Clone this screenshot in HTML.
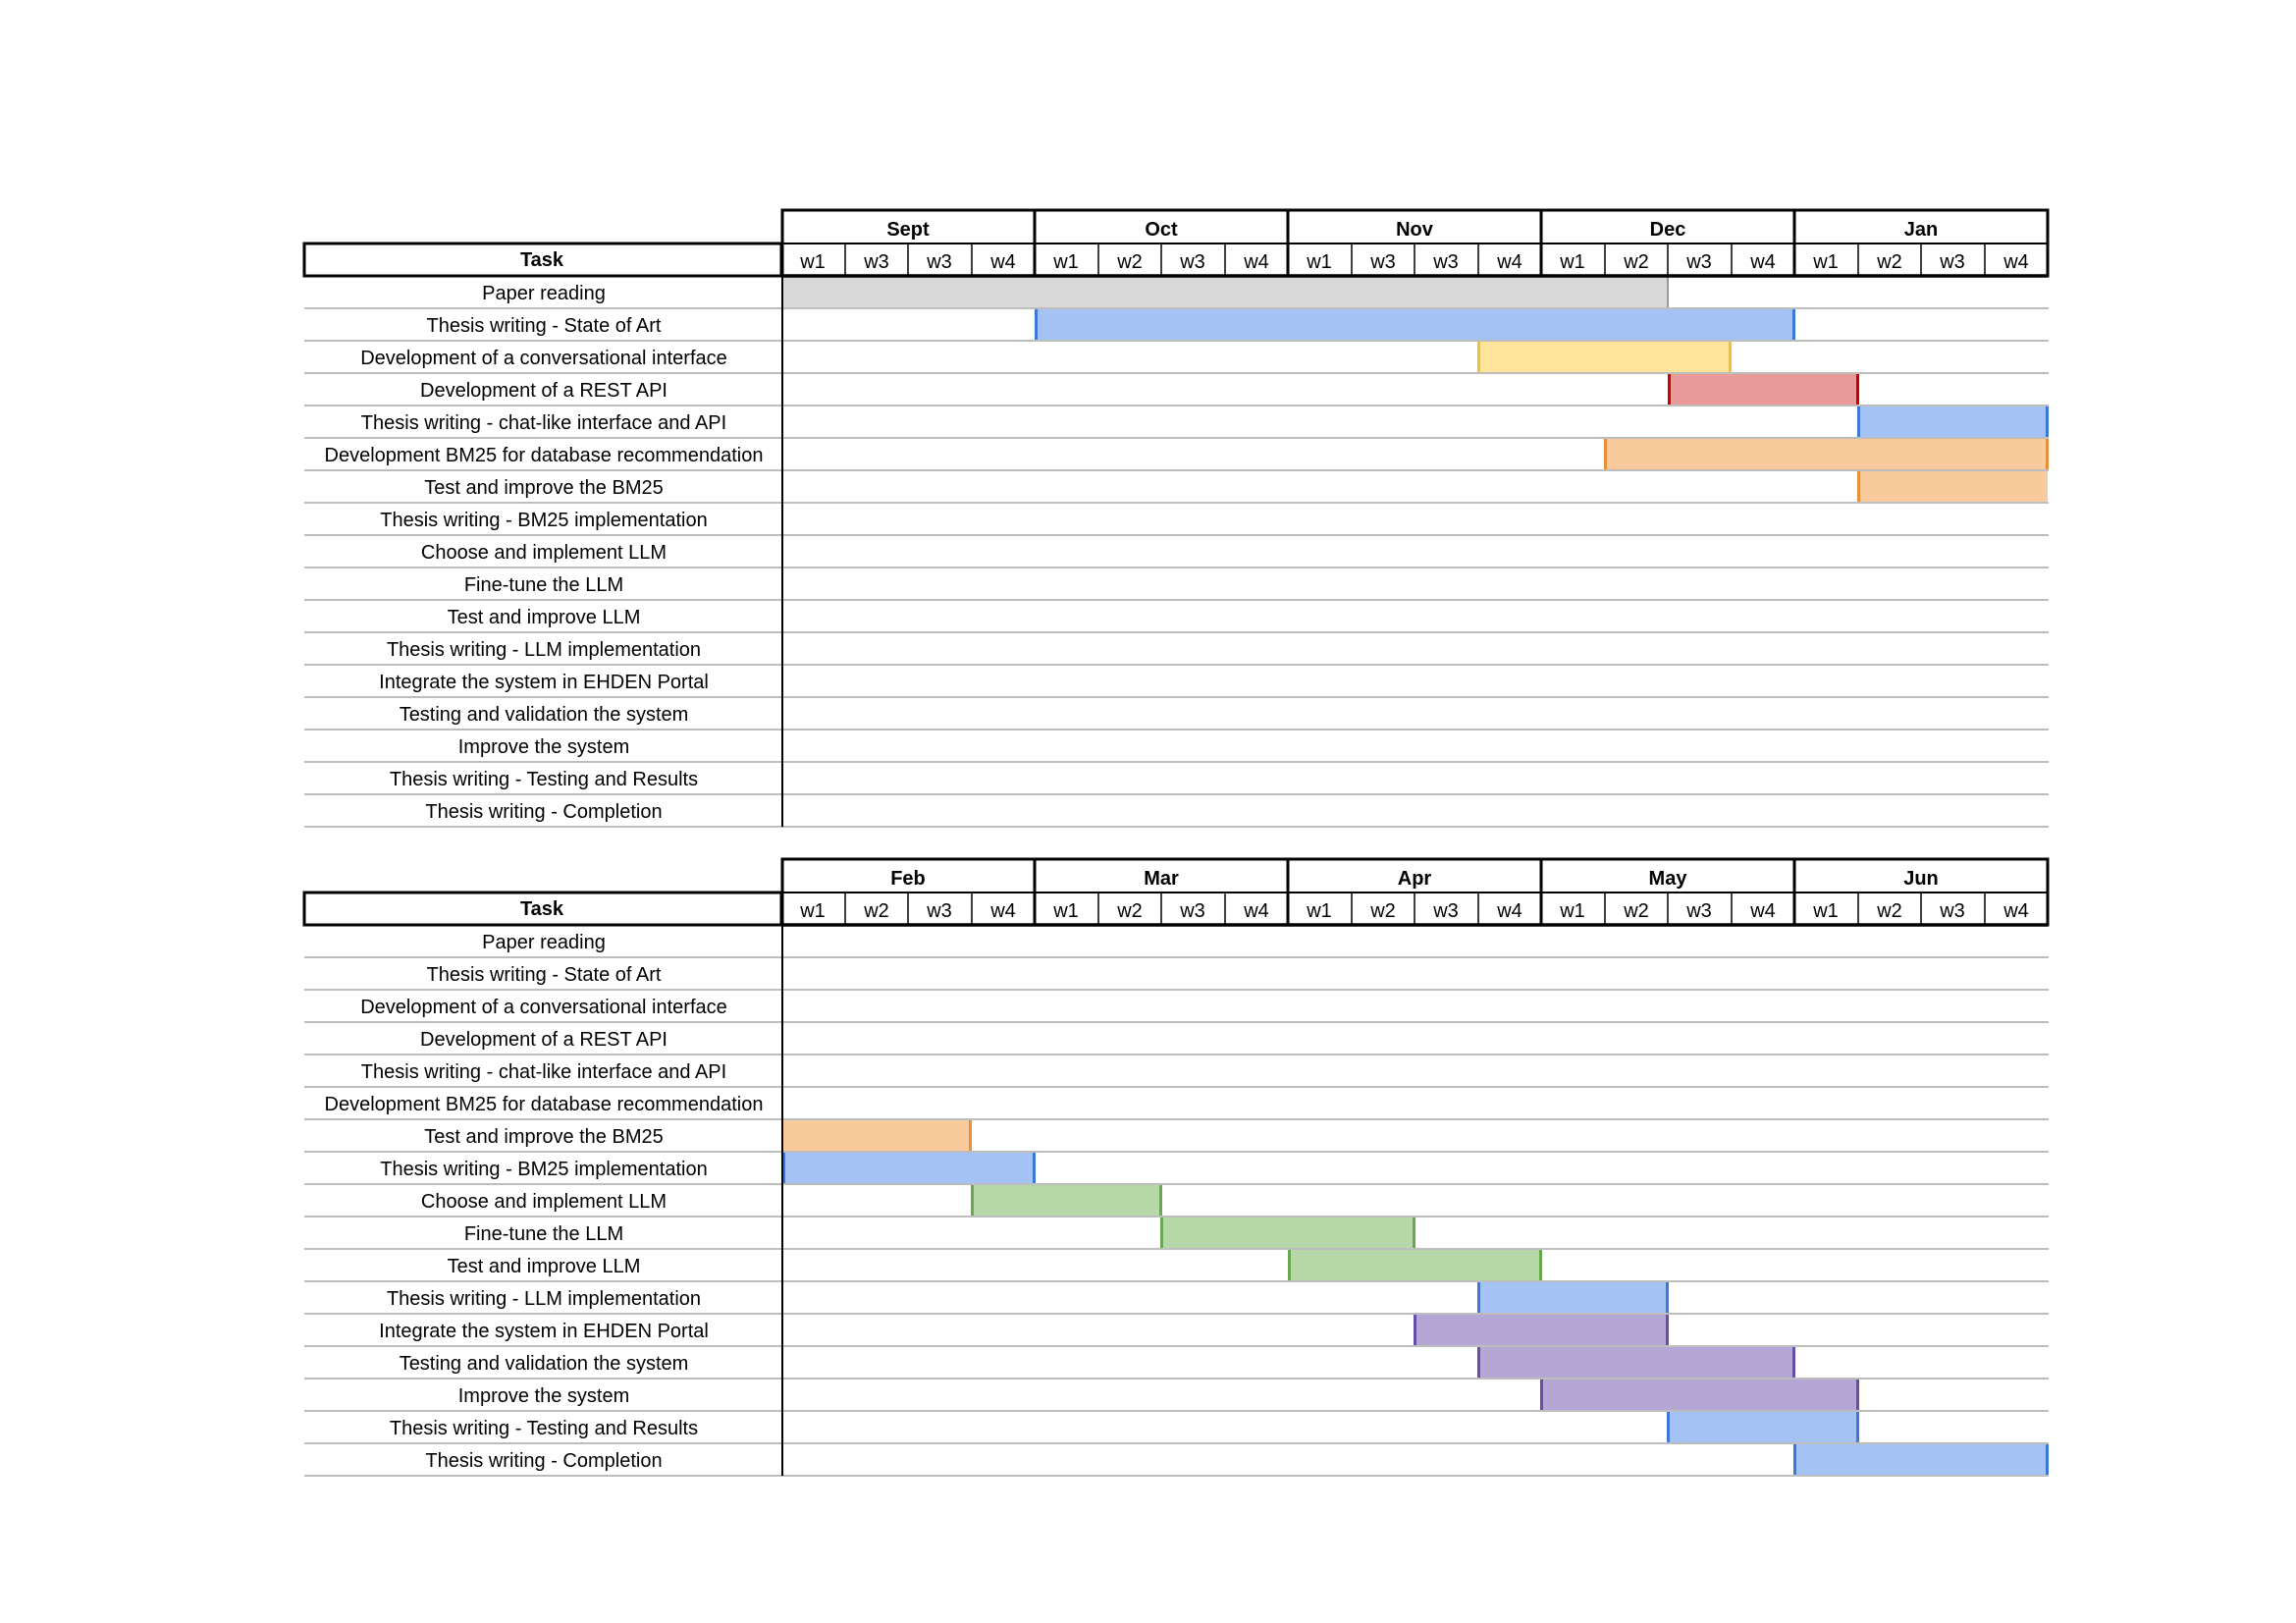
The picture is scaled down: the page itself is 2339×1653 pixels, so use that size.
<!DOCTYPE html>
<html><head><meta charset="utf-8"><style>
html,body{margin:0;padding:0;background:#fff;width:2339px;height:1653px;overflow:hidden}
svg text{font-family:"Liberation Sans",Arial,sans-serif;font-size:20px;fill:#000}
.b{font-weight:bold}
</style></head><body>
<svg width="2339" height="1653" xmlns="http://www.w3.org/2000/svg">
<g>
<rect x="796" y="282" width="903" height="32" fill="#d9d9d9"/><rect x="1698" y="282" width="2" height="32" fill="#999"/>
<rect x="1054" y="315" width="774" height="32" fill="#a4c2f4"/><rect x="1054" y="315" width="3" height="32" fill="#3c78d8"/><rect x="1826" y="315" width="3" height="32" fill="#3c78d8"/>
<rect x="1505" y="348" width="258" height="32" fill="#ffe599"/><rect x="1505" y="348" width="3" height="32" fill="#f1c232"/><rect x="1761" y="348" width="3" height="32" fill="#f1c232"/>
<rect x="1699" y="381" width="194" height="32" fill="#ea9999"/><rect x="1699" y="381" width="3" height="32" fill="#cc0000"/><rect x="1891" y="381" width="3" height="32" fill="#cc0000"/>
<rect x="1892" y="414" width="194" height="32" fill="#a4c2f4"/><rect x="1892" y="414" width="3" height="32" fill="#3c78d8"/><rect x="2084" y="414" width="3" height="32" fill="#3c78d8"/>
<rect x="1634" y="447" width="452" height="32" fill="#f9cb9c"/><rect x="1634" y="447" width="3" height="32" fill="#e69138"/><rect x="2084" y="447" width="3" height="32" fill="#e69138"/>
<rect x="1892" y="480" width="194" height="32" fill="#f9cb9c"/><rect x="1892" y="480" width="3" height="32" fill="#e69138"/>
<g stroke="#bdbdbd" stroke-width="2">
<line x1="310" x2="2087" y1="314" y2="314"/><line x1="310" x2="2087" y1="347" y2="347"/><line x1="310" x2="2087" y1="380" y2="380"/><line x1="310" x2="2087" y1="413" y2="413"/><line x1="310" x2="2087" y1="446" y2="446"/><line x1="310" x2="2087" y1="479" y2="479"/><line x1="310" x2="2087" y1="512" y2="512"/><line x1="310" x2="2087" y1="545" y2="545"/><line x1="310" x2="2087" y1="578" y2="578"/><line x1="310" x2="2087" y1="611" y2="611"/><line x1="310" x2="2087" y1="644" y2="644"/><line x1="310" x2="2087" y1="677" y2="677"/><line x1="310" x2="2087" y1="710" y2="710"/><line x1="310" x2="2087" y1="743" y2="743"/><line x1="310" x2="2087" y1="776" y2="776"/><line x1="310" x2="2087" y1="809" y2="809"/><line x1="310" x2="2087" y1="842" y2="842"/>
</g>
<line x1="797" x2="797" y1="281" y2="842" stroke="#000" stroke-width="2"/>
<g fill="none" stroke="#000">
<rect x="310" y="248" width="486" height="33" stroke-width="3"/>
<rect x="797" y="214" width="1289" height="67" stroke-width="3"/>
<line x1="797" x2="2086" y1="248" y2="248" stroke-width="2"/>
<line x1="797" x2="2086" y1="281" y2="281" stroke-width="3.5"/>
<g stroke-width="3"><line x1="1054" x2="1054" y1="214" y2="281"/><line x1="1312" x2="1312" y1="214" y2="281"/><line x1="1570" x2="1570" y1="214" y2="281"/><line x1="1828" x2="1828" y1="214" y2="281"/></g>
<g stroke-width="1.5"><line x1="861" x2="861" y1="248" y2="281"/><line x1="925" x2="925" y1="248" y2="281"/><line x1="990" x2="990" y1="248" y2="281"/><line x1="1119" x2="1119" y1="248" y2="281"/><line x1="1183" x2="1183" y1="248" y2="281"/><line x1="1248" x2="1248" y1="248" y2="281"/><line x1="1377" x2="1377" y1="248" y2="281"/><line x1="1441" x2="1441" y1="248" y2="281"/><line x1="1506" x2="1506" y1="248" y2="281"/><line x1="1635" x2="1635" y1="248" y2="281"/><line x1="1699" x2="1699" y1="248" y2="281"/><line x1="1764" x2="1764" y1="248" y2="281"/><line x1="1893" x2="1893" y1="248" y2="281"/><line x1="1957" x2="1957" y1="248" y2="281"/><line x1="2022" x2="2022" y1="248" y2="281"/></g>
</g>
<g text-anchor="middle">
<text class="b" x="552" y="271">Task</text>
<text class="b" x="925" y="240">Sept</text><text class="b" x="1183" y="240">Oct</text><text class="b" x="1441" y="240">Nov</text><text class="b" x="1699" y="240">Dec</text><text class="b" x="1957" y="240">Jan</text>
<text x="828" y="273">w1</text><text x="893" y="273">w3</text><text x="957" y="273">w3</text><text x="1022" y="273">w4</text>
<text x="1086" y="273">w1</text><text x="1151" y="273">w2</text><text x="1215" y="273">w3</text><text x="1280" y="273">w4</text>
<text x="1344" y="273">w1</text><text x="1409" y="273">w3</text><text x="1473" y="273">w3</text><text x="1538" y="273">w4</text>
<text x="1602" y="273">w1</text><text x="1667" y="273">w2</text><text x="1731" y="273">w3</text><text x="1796" y="273">w4</text>
<text x="1860" y="273">w1</text><text x="1925" y="273">w2</text><text x="1989" y="273">w3</text><text x="2054" y="273">w4</text>
<text x="554" y="305">Paper reading</text>
<text x="554" y="338">Thesis writing - State of Art</text>
<text x="554" y="371">Development of a conversational interface</text>
<text x="554" y="404">Development of a REST API</text>
<text x="554" y="437">Thesis writing - chat-like interface and API</text>
<text x="554" y="470">Development BM25 for database recommendation</text>
<text x="554" y="503">Test and improve the BM25</text>
<text x="554" y="536">Thesis writing - BM25 implementation</text>
<text x="554" y="569">Choose and implement LLM</text>
<text x="554" y="602">Fine-tune the LLM</text>
<text x="554" y="635">Test and improve LLM</text>
<text x="554" y="668">Thesis writing - LLM implementation</text>
<text x="554" y="701">Integrate the system in EHDEN Portal</text>
<text x="554" y="734">Testing and validation the system</text>
<text x="554" y="767">Improve the system</text>
<text x="554" y="800">Thesis writing - Testing and Results</text>
<text x="554" y="833">Thesis writing - Completion</text>
</g>
</g>

<g transform="translate(0,661)">
<rect x="797" y="480" width="193" height="32" fill="#f9cb9c"/><rect x="987" y="480" width="3" height="32" fill="#e69138"/>
<rect x="797" y="513" width="258" height="32" fill="#a4c2f4"/><rect x="797" y="513" width="3" height="32" fill="#3c78d8"/><rect x="1052" y="513" width="3" height="32" fill="#3c78d8"/>
<rect x="989" y="546" width="194" height="32" fill="#b6d7a8"/><rect x="989" y="546" width="3" height="32" fill="#6aa84f"/><rect x="1181" y="546" width="3" height="32" fill="#6aa84f"/>
<rect x="1182" y="579" width="259" height="32" fill="#b6d7a8"/><rect x="1182" y="579" width="3" height="32" fill="#6aa84f"/><rect x="1439" y="579" width="3" height="32" fill="#6aa84f"/>
<rect x="1312" y="612" width="258" height="32" fill="#b6d7a8"/><rect x="1312" y="612" width="3" height="32" fill="#6aa84f"/><rect x="1568" y="612" width="3" height="32" fill="#6aa84f"/>
<rect x="1505" y="645" width="194" height="32" fill="#a4c2f4"/><rect x="1505" y="645" width="3" height="32" fill="#3c78d8"/><rect x="1697" y="645" width="3" height="32" fill="#3c78d8"/>
<rect x="1440" y="678" width="259" height="32" fill="#b4a7d6"/><rect x="1440" y="678" width="3" height="32" fill="#674ea7"/><rect x="1697" y="678" width="3" height="32" fill="#674ea7"/>
<rect x="1505" y="711" width="323" height="32" fill="#b4a7d6"/><rect x="1505" y="711" width="3" height="32" fill="#674ea7"/><rect x="1826" y="711" width="3" height="32" fill="#674ea7"/>
<rect x="1569" y="744" width="324" height="32" fill="#b4a7d6"/><rect x="1569" y="744" width="3" height="32" fill="#674ea7"/><rect x="1891" y="744" width="3" height="32" fill="#674ea7"/>
<rect x="1698" y="777" width="195" height="32" fill="#a4c2f4"/><rect x="1698" y="777" width="3" height="32" fill="#3c78d8"/><rect x="1891" y="777" width="3" height="32" fill="#3c78d8"/>
<rect x="1827" y="810" width="259" height="32" fill="#a4c2f4"/><rect x="1827" y="810" width="3" height="32" fill="#3c78d8"/><rect x="2084" y="810" width="3" height="32" fill="#3c78d8"/>
<g stroke="#bdbdbd" stroke-width="2">
<line x1="310" x2="2087" y1="314" y2="314"/><line x1="310" x2="2087" y1="347" y2="347"/><line x1="310" x2="2087" y1="380" y2="380"/><line x1="310" x2="2087" y1="413" y2="413"/><line x1="310" x2="2087" y1="446" y2="446"/><line x1="310" x2="2087" y1="479" y2="479"/><line x1="310" x2="2087" y1="512" y2="512"/><line x1="310" x2="2087" y1="545" y2="545"/><line x1="310" x2="2087" y1="578" y2="578"/><line x1="310" x2="2087" y1="611" y2="611"/><line x1="310" x2="2087" y1="644" y2="644"/><line x1="310" x2="2087" y1="677" y2="677"/><line x1="310" x2="2087" y1="710" y2="710"/><line x1="310" x2="2087" y1="743" y2="743"/><line x1="310" x2="2087" y1="776" y2="776"/><line x1="310" x2="2087" y1="809" y2="809"/><line x1="310" x2="2087" y1="842" y2="842"/>
</g>
<line x1="797" x2="797" y1="281" y2="842" stroke="#000" stroke-width="2"/>
<g fill="none" stroke="#000">
<rect x="310" y="248" width="486" height="33" stroke-width="3"/>
<rect x="797" y="214" width="1289" height="67" stroke-width="3"/>
<line x1="797" x2="2086" y1="248" y2="248" stroke-width="2"/>
<line x1="797" x2="2086" y1="281" y2="281" stroke-width="3.5"/>
<g stroke-width="3"><line x1="1054" x2="1054" y1="214" y2="281"/><line x1="1312" x2="1312" y1="214" y2="281"/><line x1="1570" x2="1570" y1="214" y2="281"/><line x1="1828" x2="1828" y1="214" y2="281"/></g>
<g stroke-width="1.5"><line x1="861" x2="861" y1="248" y2="281"/><line x1="925" x2="925" y1="248" y2="281"/><line x1="990" x2="990" y1="248" y2="281"/><line x1="1119" x2="1119" y1="248" y2="281"/><line x1="1183" x2="1183" y1="248" y2="281"/><line x1="1248" x2="1248" y1="248" y2="281"/><line x1="1377" x2="1377" y1="248" y2="281"/><line x1="1441" x2="1441" y1="248" y2="281"/><line x1="1506" x2="1506" y1="248" y2="281"/><line x1="1635" x2="1635" y1="248" y2="281"/><line x1="1699" x2="1699" y1="248" y2="281"/><line x1="1764" x2="1764" y1="248" y2="281"/><line x1="1893" x2="1893" y1="248" y2="281"/><line x1="1957" x2="1957" y1="248" y2="281"/><line x1="2022" x2="2022" y1="248" y2="281"/></g>
</g>
<g text-anchor="middle">
<text class="b" x="552" y="271">Task</text>
<text class="b" x="925" y="240">Feb</text><text class="b" x="1183" y="240">Mar</text><text class="b" x="1441" y="240">Apr</text><text class="b" x="1699" y="240">May</text><text class="b" x="1957" y="240">Jun</text>
<text x="828" y="273">w1</text><text x="893" y="273">w2</text><text x="957" y="273">w3</text><text x="1022" y="273">w4</text>
<text x="1086" y="273">w1</text><text x="1151" y="273">w2</text><text x="1215" y="273">w3</text><text x="1280" y="273">w4</text>
<text x="1344" y="273">w1</text><text x="1409" y="273">w2</text><text x="1473" y="273">w3</text><text x="1538" y="273">w4</text>
<text x="1602" y="273">w1</text><text x="1667" y="273">w2</text><text x="1731" y="273">w3</text><text x="1796" y="273">w4</text>
<text x="1860" y="273">w1</text><text x="1925" y="273">w2</text><text x="1989" y="273">w3</text><text x="2054" y="273">w4</text>
<text x="554" y="305">Paper reading</text>
<text x="554" y="338">Thesis writing - State of Art</text>
<text x="554" y="371">Development of a conversational interface</text>
<text x="554" y="404">Development of a REST API</text>
<text x="554" y="437">Thesis writing - chat-like interface and API</text>
<text x="554" y="470">Development BM25 for database recommendation</text>
<text x="554" y="503">Test and improve the BM25</text>
<text x="554" y="536">Thesis writing - BM25 implementation</text>
<text x="554" y="569">Choose and implement LLM</text>
<text x="554" y="602">Fine-tune the LLM</text>
<text x="554" y="635">Test and improve LLM</text>
<text x="554" y="668">Thesis writing - LLM implementation</text>
<text x="554" y="701">Integrate the system in EHDEN Portal</text>
<text x="554" y="734">Testing and validation the system</text>
<text x="554" y="767">Improve the system</text>
<text x="554" y="800">Thesis writing - Testing and Results</text>
<text x="554" y="833">Thesis writing - Completion</text>
</g>
</g>
</svg>
</body></html>
